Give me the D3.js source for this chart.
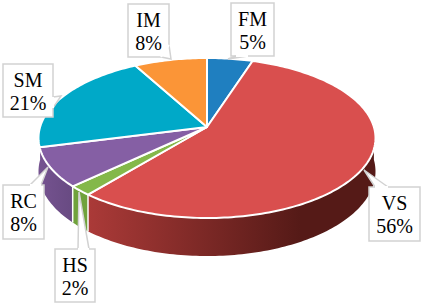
<!DOCTYPE html>
<html>
<head>
<meta charset="utf-8">
<script src="https://cdn.jsdelivr.net/npm/d3@7"></script>
<style>
html, body { margin: 0; padding: 0; background: #fff; }
svg { display: block; }
</style>
</head>
<body>
<div id="chart"></div>
<script>
var categories = ["FM", "VS", "HS", "RC", "SM", "IM"];
var shares = [5, 56, 2, 8, 21, 8];
var topColors = ["#1f7fc0", "#d94f4e", "#84b84a", "#855fa4", "#00a9c8", "#fb9537"];
var sideFrom = ["#1a6ba2", "#ab3a38", "#70a23c", "#755390", "#0090aa", "#d87d2c"];
var sideTo = ["#1a6ba2", "#551a17", "#70a23c", "#684a82", "#0090aa", "#d87d2c"];

// label boxes: [x, y, w, h], callout wedge as three points
var boxes = [
  {box: [231, 3, 43, 53], wedge: [[236, 56], [228, 59], [248, 56]]},
  {box: [369, 187, 51, 54], wedge: [[375, 187], [364, 170], [388, 187]]},
  {box: [55, 249, 40, 53], wedge: [[78, 249], [79, 192], [89, 249]]},
  {box: [3, 185, 41, 54], wedge: [[30, 185], [48, 167], [41, 185]]},
  {box: [3, 64, 50, 53], wedge: [[53, 97], [61, 96], [53, 108]]},
  {box: [128, 4, 41, 53], wedge: [[161, 57], [171, 59], [169, 45]]}
];

var w = 422, h = 305;
var cx = 207, cy = 127;
var a = 166.9, b = 78.5, k = 0.1375, depth = 32.8;

// circle on the table -> screen, with a bit of perspective
function project(angle, drop) {
  var u = Math.sin(angle), v = Math.cos(angle);
  var s = 1 + k * v;
  return [cx + a * u / s, cy - b * v / s + drop * depth / s];
}

function arcPoints(start, end, drop) {
  var n = Math.max(2, Math.ceil((end - start) / 0.02));
  return d3.range(n + 1).map(function(i) {
    return project(start + (end - start) * i / n, drop);
  });
}

var svg = d3.select("#chart").append("svg").attr("width", w).attr("height", h);
var defs = svg.append("defs");
var line = d3.line();

var pie = d3.pie().sort(null).value(function(d) { return d; });
var slices = pie(shares);

// side walls only exist on the front half (angles 90deg..270deg)
var walls = svg.append("g");
slices.forEach(function(d, i) {
  // SM only shows a sliver there, the reference has RC's wall run on instead
  if (categories[i] == "SM") return;
  var start = Math.max(d.startAngle, Math.PI / 2);
  var end = categories[i] == "RC" ? Math.PI * 1.5 : Math.min(d.endAngle, Math.PI * 1.5);
  if (end <= start) return;
  var upper = arcPoints(start, end, 0);
  var lower = arcPoints(start, end, 1).reverse();
  var xs = upper.map(function(p) { return p[0]; });
  var grad = defs.append("linearGradient")
    .attr("id", "side" + i)
    .attr("gradientUnits", "userSpaceOnUse")
    .attr("x1", d3.min(xs)).attr("x2", Math.min(d3.max(xs), 300))
    .attr("y1", 0).attr("y2", 0);
  grad.append("stop").attr("offset", 0).attr("stop-color", sideFrom[i]);
  grad.append("stop").attr("offset", 1).attr("stop-color", sideTo[i]);
  walls.append("path")
    .attr("d", line(upper.concat(lower)) + "Z")
    .attr("fill", "url(#side" + i + ")");
  // white seam between neighbouring walls
  if (d.startAngle > Math.PI / 2 && d.startAngle < Math.PI * 1.5) {
    walls.append("path")
      .attr("d", line([project(d.startAngle, 0), project(d.startAngle, 1)]))
      .attr("stroke", "#fff").attr("stroke-width", 1.5);
  }
});

var faces = svg.append("g");
slices.forEach(function(d, i) {
  var pts = [[cx, cy]].concat(arcPoints(d.startAngle, d.endAngle, 0));
  faces.append("path")
    .attr("d", line(pts) + "Z")
    .attr("fill", topColors[i])
    .attr("stroke", "#fff")
    .attr("stroke-width", 2)
    .attr("stroke-linejoin", "round");
});

var labels = svg.append("g");
boxes.forEach(function(d, i) {
  var r = d.box;
  labels.append("rect")
    .attr("x", r[0]).attr("y", r[1]).attr("width", r[2]).attr("height", r[3])
    .attr("fill", "#fff").attr("stroke", "#d2d2d2").attr("stroke-width", 1.5);
  labels.append("path")
    .attr("d", line(d.wedge))
    .attr("fill", "#fff").attr("stroke", "#d2d2d2").attr("stroke-width", 1.5);
  // cover the box edge inside the wedge
  labels.append("path")
    .attr("d", line([d.wedge[0], d.wedge[2]]))
    .attr("stroke", "#fff").attr("stroke-width", 2);
  var t = labels.append("text")
    .attr("font-family", "'Liberation Serif', serif")
    .attr("font-size", 20)
    .attr("fill", "#000")
    .attr("text-anchor", "middle");
  t.append("tspan").attr("x", r[0] + r[2] / 2).attr("y", r[1] + 23).text(categories[i]);
  t.append("tspan").attr("x", r[0] + r[2] / 2).attr("y", r[1] + 46).text(shares[i] + "%");
});
</script>
</body>
</html>
